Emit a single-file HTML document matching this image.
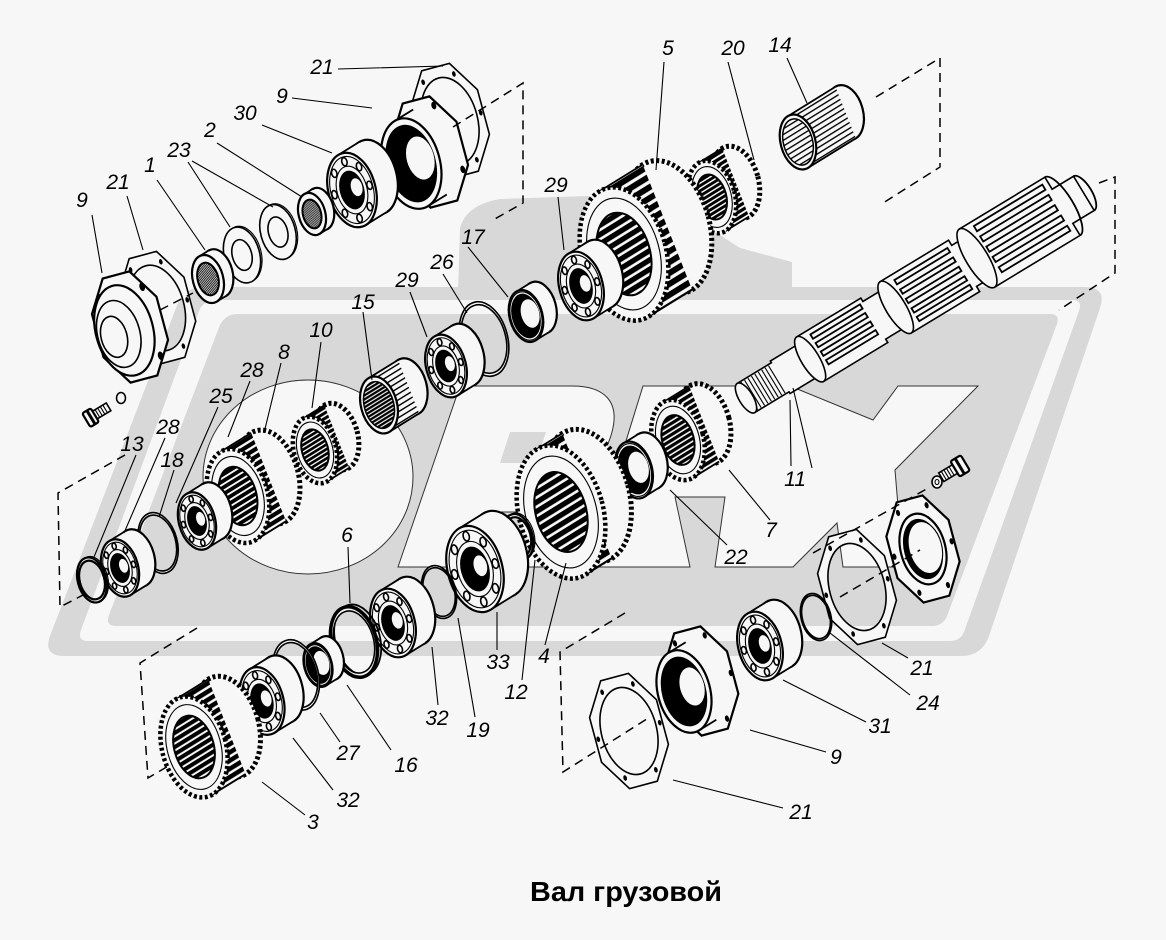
<!DOCTYPE html>
<html><head><meta charset="utf-8"><title>Вал грузовой</title>
<style>
html,body{margin:0;padding:0;background:#f7f7f7}
svg{display:block}
svg circle,svg path,svg rect,svg ellipse{vector-effect:non-scaling-stroke}
.w{fill:#f7f7f7;stroke:#000;stroke-width:1.6}
.w2{fill:#f7f7f7;stroke:#000;stroke-width:2.2}
.f{fill:#f7f7f7;stroke:none}
.s{fill:none;stroke:#000;stroke-width:1.8}
.n{fill:none;stroke:#000;stroke-width:1.1}
.b{fill:#000}
.wh{fill:#f7f7f7}
.tb{fill:#f7f7f7;stroke:#000;stroke-width:5;stroke-dasharray:3 2.5}
.tf{fill:#f7f7f7;stroke:#000;stroke-width:4.5;stroke-dasharray:3 2.5}
.d{fill:none;stroke:#000;stroke-width:1.5;stroke-dasharray:9 6}
.ld{fill:none;stroke:#000;stroke-width:1.1}
.gr{fill:#d8d8d8}
.lt{fill:#f7f7f7;stroke:#333;stroke-width:1}
text.l{font-family:"Liberation Sans",sans-serif;font-style:italic;font-size:21px;text-anchor:middle;fill:#000}
</style></head>
<body>
<svg width="1166" height="940" viewBox="0 0 1166 940" xmlns="http://www.w3.org/2000/svg">
<defs>
<pattern id="st" patternUnits="userSpaceOnUse" width="14" height="14" patternTransform="rotate(-10.5)"><rect width="14" height="14" fill="#f7f7f7"/><rect width="14" height="9" fill="#000"/></pattern>
<pattern id="bo" patternUnits="userSpaceOnUse" width="12" height="12" patternTransform="rotate(-10.5)"><rect width="12" height="12" fill="#f7f7f7"/><rect width="12" height="8" fill="#000"/></pattern>
<pattern id="thr" patternUnits="userSpaceOnUse" width="9" height="9" patternTransform="rotate(60)"><rect width="9" height="9" fill="#f7f7f7"/><rect width="9" height="5" fill="#000"/></pattern>
<pattern id="win" patternUnits="userSpaceOnUse" width="18" height="18" patternTransform="rotate(-10.5)"><rect width="18" height="18" fill="#f7f7f7"/><rect width="18" height="5" fill="#000"/></pattern>
<path id="oct" d="M97.9,40.6L40.6,97.9L-40.6,97.9L-97.9,40.6L-97.9,-40.6L-40.6,-97.9L40.6,-97.9L97.9,-40.6Z"/>
<g id="brg" transform="matrix(0.599,-0.161,0.259,0.966,0,0)">
<circle cx="100.4" cy="-18.7" r="100" class="w2"/>
<path d="M18.2,98.3L118.6,79.6L82.2,-117L-18.2,-98.3Z" class="f"/>
<path d="M18.2,98.3L118.6,79.6M-18.2,-98.3L82.2,-117" class="s"/>
<circle r="100" class="w2"/><circle r="90" class="n"/><circle r="64" class="n"/>
<path class="w" d="M88,0a11,11 0 1 0 -22,0a11,11 0 1 0 22,0ZM65.4,54.4a11,11 0 1 0 -22,0a11,11 0 1 0 22,0ZM11,77a11,11 0 1 0 -22,0a11,11 0 1 0 22,0ZM-43.4,54.4a11,11 0 1 0 -22,0a11,11 0 1 0 22,0ZM-66,0a11,11 0 1 0 -22,0a11,11 0 1 0 22,0ZM-43.4,-54.4a11,11 0 1 0 -22,0a11,11 0 1 0 22,0ZM11,-77a11,11 0 1 0 -22,0a11,11 0 1 0 22,0ZM65.4,-54.4a11,11 0 1 0 -22,0a11,11 0 1 0 22,0Z"/>
<circle r="52" class="b"/><circle cx="22" cy="-4" r="24" class="wh"/>
</g>
<g id="gA" transform="matrix(0.599,-0.161,0.259,0.966,0,0)">
<circle cx="115.9" cy="-21.5" r="100" class="tb"/>
<path d="M18.2,98.3L134.1,76.8L97.7,-119.8L-18.2,-98.3Z" fill="url(#st)"/>
<path d="M18.2,98.3L134.1,76.8M-18.2,-98.3L97.7,-119.8" class="s"/>
<circle r="100" class="tf"/><circle r="84" class="n"/>
<circle r="62" fill="url(#bo)" stroke="#000" stroke-width="2"/>
</g>
<g id="gB" transform="matrix(0.599,-0.161,0.259,0.966,0,0)">
<circle cx="69.5" cy="-12.9" r="100" class="tb"/>
<path d="M18.2,98.3L87.7,85.4L51.3,-111.2L-18.2,-98.3Z" fill="url(#st)"/>
<path d="M18.2,98.3L87.7,85.4M-18.2,-98.3L51.3,-111.2" class="s"/>
<circle r="100" class="tf"/><circle r="84" class="n"/>
<circle r="60" fill="url(#bo)" stroke="#000" stroke-width="2"/>
</g>
<g id="dr" transform="matrix(0.599,-0.161,0.259,0.966,0,0)">
<circle cx="92.7" cy="-17.2" r="100" class="w2"/>
<path d="M18.2,98.3L110.9,81.1L74.5,-115.5L-18.2,-98.3Z" class="f"/>
<path d="M18.2,98.3L110.9,81.1M-18.2,-98.3L74.5,-115.5" class="s"/>
<circle r="100" class="w2"/><circle r="93" class="n"/><circle r="86" class="b"/>
<circle cx="28" cy="-5" r="55" class="wh"/>
</g>
<g id="cg1" transform="matrix(0.599,-0.161,0.259,0.966,0,0)">
<circle cx="185.4" cy="-34.4" r="100" class="w2"/>
<path d="M18.2,98.3L203.6,63.9L167.2,-132.7L-18.2,-98.3Z" fill="url(#win)"/>
<path d="M18.2,98.3L203.6,63.9M-18.2,-98.3L167.2,-132.7" class="s"/>
<circle r="100" class="w2"/><circle r="82" fill="url(#bo)" stroke="#000" stroke-width="1.5"/>
</g>
<g id="cg2" transform="matrix(0.599,-0.161,0.259,0.966,0,0)">
<circle cx="309" cy="-57.4" r="100" class="w2"/>
<path d="M18.2,98.3L327.2,40.9L290.8,-155.7L-18.2,-98.3Z" fill="url(#win)"/>
<path d="M18.2,98.3L327.2,40.9M-18.2,-98.3L290.8,-155.7" class="s"/>
<circle r="100" class="w2"/><circle r="84" fill="url(#win)" stroke="#000" stroke-width="1.5"/>
</g>
<g id="nut" transform="matrix(0.599,-0.161,0.259,0.966,0,0)">
<circle cx="69.5" cy="-12.9" r="100" class="w2"/>
<path d="M18.2,98.3L87.7,85.4L51.3,-111.2L-18.2,-98.3Z" class="f"/>
<path d="M18.2,98.3L87.7,85.4M-18.2,-98.3L51.3,-111.2" class="s"/>
<circle r="100" class="w2"/><circle r="68" fill="url(#thr)" stroke="#000" stroke-width="2"/>
</g>
<g id="wsh" transform="matrix(0.599,-0.161,0.259,0.966,0,0)">
<circle cx="9.3" cy="-1.7" r="100" class="n"/>
<path d="M100,0A100,100 0 1 1 -100,0A100,100 0 1 1 100,0ZM55,0A55,55 0 1 1 -55,0A55,55 0 1 1 55,0Z" fill-rule="evenodd" class="w"/>
</g>
<g id="rg" transform="matrix(0.599,-0.161,0.259,0.966,0,0)">
<circle cx="12.4" cy="-2.3" r="100" class="n"/>
<path d="M100,0A100,100 0 1 1 -100,0A100,100 0 1 1 100,0ZM86,0A86,86 0 1 1 -86,0A86,86 0 1 1 86,0Z" fill-rule="evenodd" class="w2"/>
</g>
<g id="rgB" transform="matrix(0.599,-0.161,0.259,0.966,0,0)">
<circle cx="18.5" cy="-3.4" r="100" class="s"/>
<path d="M100,0A100,100 0 1 1 -100,0A100,100 0 1 1 100,0ZM88,0A88,88 0 1 1 -88,0A88,88 0 1 1 88,0Z" fill-rule="evenodd" class="w"/>
<circle r="100" fill="none" stroke="#000" stroke-width="3.5"/>
</g>
<g id="clip" transform="matrix(0.599,-0.161,0.259,0.966,0,0)">
<path d="M100,0A100,100 0 1 1 -100,0A100,100 0 1 1 100,0ZM92,0A92,92 0 1 1 -92,0A92,92 0 1 1 92,0Z" fill-rule="evenodd" class="w"/>
</g>
<g id="gsk" transform="matrix(0.599,-0.161,0.259,0.966,0,0)">
<path d="M97.9,40.6L40.6,97.9L-40.6,97.9L-97.9,40.6L-97.9,-40.6L-40.6,-97.9L40.6,-97.9L97.9,-40.6ZM78,0A78,78 0 1 1 -78,0A78,78 0 1 1 78,0Z" fill-rule="evenodd" class="w"/>
<path class="b" d="M95,0a5,5 0 1 0 -10,0a5,5 0 1 0 10,0ZM50,77.9a5,5 0 1 0 -10,0a5,5 0 1 0 10,0ZM-40,77.9a5,5 0 1 0 -10,0a5,5 0 1 0 10,0ZM-85,0a5,5 0 1 0 -10,0a5,5 0 1 0 10,0ZM-40,-77.9a5,5 0 1 0 -10,0a5,5 0 1 0 10,0ZM50,-77.9a5,5 0 1 0 -10,0a5,5 0 1 0 10,0Z"/>
</g>
</defs>

<rect width="1166" height="940" fill="#f7f7f7"/>
<path class="gr" d="M203,287L1085,287Q1107,287 1100,308L989,636Q982,656 961,656L64,656Q43,656 50,636L176,308Q183,287 203,287Z"/>
<path class="gr" d="M458,292L460,228Q466,205 500,199L588,196L700,222L740,248L792,262L792,292Z"/>
<path fill="#f7f7f7" d="M218,300L1072,300Q1083,300 1079,311L964,632Q960,641 950,641L88,641Q77,641 81,630L199,311Q203,300 218,300Z"/>
<path class="gr" d="M238,314L1050,314Q1060,314 1057,324L947,616Q943,626 932,626L116,626Q105,626 109,615L218,330Q223,314 238,314Z"/>
<ellipse class="lt" cx="308" cy="477" rx="105" ry="97"/>
<path class="lt" d="M398,567L460,386L572,386C605,386 620,402 612,432C606,455 592,468 570,476L600,567L520,567L533,512L490,512L472,567Z"/>
<path class="gr" d="M510,432L546,432L536,463L500,463Z"/>
<path class="lt" d="M587,567L643,386L790,386L873,420L898,386L978,386L895,470L903,567L843,567L837,523L793,567L715,567L725,497L675,497L690,567Z"/>

<g transform="translate(746,398) rotate(-31.2)">
<path class="w" stroke-width="2.2" d="M0,-17L40,-17L40,-19L75,-19L75,-26L150,-26L150,-22L175,-22L175,-30L255,-30L255,-24L270,-24L270,-34L370,-34L370,-20L395,-20L395,20L370,20L370,34L270,34L270,24L255,24L255,30L175,30L175,22L150,22L150,26L75,26L75,19L40,19L40,17L0,17Z"/>
<path class="n" stroke-width="1.3" d="M4,-16V16M8,-16V16M12,-16V16M16,-16V16M20,-16V16M24,-16V16M28,-16V16M32,-16V16M36,-16V16"/>
<ellipse cx="0" cy="0" rx="7" ry="17" class="w"/><ellipse cx="75" cy="0" rx="9" ry="26" class="w"/><ellipse cx="175" cy="0" rx="10" ry="30" class="w"/><ellipse cx="270" cy="0" rx="11" ry="34" class="w"/>
<path class="s" d="M395,-20A8,20 0 0 1 395,20M370,-34A11,34 0 0 1 370,34"/>
<path fill="none" stroke="#000" stroke-width="1.8" d="M88,-21h58v5h-58zM88,-11h58v5h-58zM88,-1h58v5h-58zM88,9h58v5h-58zM188,-24h62v5h-62zM188,-13h62v5h-62zM188,-2h62v5h-62zM188,9h62v5h-62zM188,19h62v5h-62zM284,-29h80v6h-80zM284,-17h80v6h-80zM284,-5h80v6h-80zM284,7h80v6h-80zM284,19h80v6h-80z"/>
</g>

<use href="#gsk" transform="translate(450,121) scale(0.57)"/>
<g transform="translate(430,152) scale(0.55)"><g transform="matrix(0.599,-0.161,0.259,0.966,0,0)">
<use href="#oct" class="w2"/>
<path class="b" d="M86.7,46a7,7 0 1 0 -14,0a7,7 0 1 0 14,0ZM-39,79.7a7,7 0 1 0 -14,0a7,7 0 1 0 14,0ZM-72.7,-46a7,7 0 1 0 -14,0a7,7 0 1 0 14,0ZM53,-79.7a7,7 0 1 0 -14,0a7,7 0 1 0 14,0Z"/>
<path d="M15.3,82.6L-46.5,94.1L-77.1,-71.1L-15.3,-82.6Z" class="f"/>
<path d="M15.3,82.6L-46.5,94.1M-15.3,-82.6L-77.1,-71.1" class="s"/>
<circle cx="-61.8" cy="11.5" r="84" class="w2"/><circle cx="-61.8" cy="11.5" r="72" class="b"/><circle cx="-32" cy="6" r="40" class="wh"/>
</g></g>
<use href="#brg" transform="translate(352,190) scale(0.38)"/>
<use href="#nut" transform="translate(312,214) scale(0.215)"/>
<use href="#wsh" transform="translate(278,232) scale(0.28)"/>
<use href="#wsh" transform="translate(242,255) scale(0.285)"/>
<use href="#nut" transform="translate(208,279) scale(0.245)"/>
<use href="#gsk" transform="translate(157,308) scale(0.56)"/>
<g transform="translate(130,327) scale(0.55)"><g transform="matrix(0.599,-0.161,0.259,0.966,0,0)">
<use href="#oct" class="w2"/>
<path class="b" d="M73,65a8,8 0 1 0 -16,0a8,8 0 1 0 16,0ZM-57,65a8,8 0 1 0 -16,0a8,8 0 1 0 16,0ZM-57,-65a8,8 0 1 0 -16,0a8,8 0 1 0 16,0ZM73,-65a8,8 0 1 0 -16,0a8,8 0 1 0 16,0Z"/>
<circle cx="-18.5" cy="3.4" r="84" class="w2"/><circle cx="-37.1" cy="6.9" r="62" class="w"/><circle cx="-52.5" cy="9.8" r="38" class="w"/>
</g></g>
<g transform="translate(100,412) rotate(-31)">
<rect x="-6" y="-4.5" width="16" height="9" class="w"/>
<path class="n" d="M-3,-4.5V4.5M0,-4.5V4.5M3,-4.5V4.5M6,-4.5V4.5"/>
<rect x="-16" y="-8" width="10" height="16" rx="2" class="w2"/><rect x="-12" y="-8" width="3" height="16" class="b"/>
</g>
<ellipse cx="121" cy="398" rx="4.5" ry="5.5" class="w"/>

<use href="#cg2" transform="translate(798,142) scale(0.28)"/>
<use href="#gA" transform="translate(712,197) scale(0.37)"/>
<use href="#gA" transform="translate(624,254) scale(0.68)"/>
<use href="#brg" transform="translate(581,286) scale(0.35)"/>
<use href="#dr" transform="translate(526,316) scale(0.265)"/>
<use href="#clip" transform="translate(484,339) scale(0.38)"/>
<use href="#brg" transform="translate(446,366) scale(0.32)"/>
<use href="#cg1" transform="translate(379,405) scale(0.29)"/>
<use href="#gA" transform="translate(315,450) scale(0.34)"/>
<use href="#gA" transform="translate(238,496) scale(0.48)"/>
<use href="#brg" transform="translate(197,521) scale(0.293)"/>
<use href="#clip" transform="translate(158,543) scale(0.31)"/>
<use href="#brg" transform="translate(120,568) scale(0.293)"/>
<use href="#rg" transform="translate(92,580) scale(0.23)"/>

<use href="#gA" transform="translate(678,440) scale(0.41)"/>
<use href="#dr" transform="translate(634,470) scale(0.29)"/>
<use href="#gB" transform="translate(561,512) scale(0.68)"/>
<use href="#rg" transform="translate(518,537) scale(0.235)"/>
<use href="#brg" transform="translate(475,569) scale(0.44)"/>
<use href="#clip" transform="translate(439,592) scale(0.27)"/>
<use href="#brg" transform="translate(393,623) scale(0.35)"/>
<use href="#rgB" transform="translate(354,642) scale(0.36)"/>
<use href="#dr" transform="translate(318,665) scale(0.223)"/>
<use href="#clip" transform="translate(296,675) scale(0.36)"/>
<use href="#brg" transform="translate(262,701) scale(0.345)"/>
<use href="#gA" transform="translate(194,747) scale(0.515)"/>

<g transform="translate(955,469) rotate(-31)">
<rect x="-16" y="-5" width="16" height="10" class="w"/>
<path class="n" d="M-13,-5V5M-10,-5V5M-7,-5V5M-4,-5V5"/>
<rect x="0" y="-9" width="12" height="18" rx="2" class="w2"/><rect x="4" y="-9" width="3" height="18" class="b"/>
</g>
<ellipse cx="937" cy="482" rx="5" ry="6" class="w"/><ellipse cx="937" cy="482" rx="2" ry="2.5" class="n"/>
<g transform="translate(923,549) scale(0.53)"><g transform="matrix(0.599,-0.161,0.259,0.966,0,0)">
<use href="#oct" class="w2"/>
<path class="b" d="M96,0a6,6 0 1 0 -12,0a6,6 0 1 0 12,0ZM51,77.9a6,6 0 1 0 -12,0a6,6 0 1 0 12,0ZM-39,77.9a6,6 0 1 0 -12,0a6,6 0 1 0 12,0ZM-84,0a6,6 0 1 0 -12,0a6,6 0 1 0 12,0ZM-39,-77.9a6,6 0 1 0 -12,0a6,6 0 1 0 12,0ZM51,-77.9a6,6 0 1 0 -12,0a6,6 0 1 0 12,0Z"/>
<circle r="68" class="w2"/><circle r="58" class="b"/><circle cx="8" cy="-1.5" r="50" class="wh"/><circle cx="8" cy="-1.5" r="50" class="n"/>
</g></g>
<use href="#gsk" transform="translate(857,587) scale(0.57)"/>
<use href="#clip" transform="translate(816,617) scale(0.24)"/>
<use href="#brg" transform="translate(760,646) scale(0.35)"/>
<g transform="translate(701,681) scale(0.54)"><g transform="matrix(0.599,-0.161,0.259,0.966,0,0)">
<use href="#oct" class="w2"/>
<path class="b" d="M98,0a6,6 0 1 0 -12,0a6,6 0 1 0 12,0ZM52,79.7a6,6 0 1 0 -12,0a6,6 0 1 0 12,0ZM-40,79.7a6,6 0 1 0 -12,0a6,6 0 1 0 12,0ZM-86,0a6,6 0 1 0 -12,0a6,6 0 1 0 12,0ZM-40,-79.7a6,6 0 1 0 -12,0a6,6 0 1 0 12,0ZM52,-79.7a6,6 0 1 0 -12,0a6,6 0 1 0 12,0Z"/>
<path d="M14.2,76.7L-43,87.3L-71.4,-66.1L-14.2,-76.7Z" class="f"/>
<path d="M14.2,76.7L-43,87.3M-14.2,-76.7L-71.4,-66.1" class="s"/>
<circle cx="-57.2" cy="10.6" r="78" class="w2"/><circle cx="-57.2" cy="10.6" r="66" class="b"/><circle cx="-30" cy="5.5" r="36" class="wh"/>
</g></g>
<use href="#gsk" transform="translate(629,731) scale(0.57)"/>

<path class="d" d="M453,127L523,83L523,203L493,220M876,97L940,58L940,167L883,203M1099,183L1115,177L1115,273L1059,310M125,455L58,493L60,607L85,594M197,628L140,663L148,778L170,765M625,613L560,652L563,772L650,717M813,553L930,487M840,597L920,550M160,310L193,293"/>

<path class="ld" d="M338,69L443,66M292,98L372,108M262,125L332,153M217,143L302,197M188,162L230,227M192,161L273,207M157,180L205,250M127,196L143,250M92,215L102,273M664,62L656,170M728,62L754,160M787,58L807,103M558,197L564,250M468,247L508,297M443,274L467,313M410,292L427,337M363,312L372,380M321,342L312,408M281,363L264,433M250,381L228,437M218,407L176,503M165,438L124,533M174,470L159,517M136,455L94,557M348,547L350,603M791,466L790,400M812,468L793,388M770,520L729,470M727,545L670,490M497,650L497,612M545,645L566,563M522,680L535,560M438,705L432,647M475,717L458,618M340,742L320,713M391,750L347,685M333,790L293,738M305,815L262,782M908,658L882,643M910,695L830,633M866,722L783,680M826,752L750,730M783,808L673,780"/>

<g>
<text class="l" x="322" y="74">21</text><text class="l" x="282" y="103">9</text><text class="l" x="245" y="120">30</text><text class="l" x="210" y="137">2</text><text class="l" x="179" y="157">23</text><text class="l" x="150" y="172">1</text><text class="l" x="118" y="189">21</text><text class="l" x="82" y="207">9</text>
<text class="l" x="668" y="55">5</text><text class="l" x="733" y="55">20</text><text class="l" x="780" y="52">14</text><text class="l" x="556" y="192">29</text><text class="l" x="473" y="244">17</text><text class="l" x="442" y="269">26</text><text class="l" x="407" y="287">29</text><text class="l" x="363" y="309">15</text>
<text class="l" x="321" y="337">10</text><text class="l" x="284" y="359">8</text><text class="l" x="252" y="377">28</text><text class="l" x="221" y="403">25</text><text class="l" x="168" y="434">28</text><text class="l" x="172" y="467">18</text><text class="l" x="132" y="451">13</text><text class="l" x="347" y="542">6</text>
<text class="l" x="795" y="486">11</text><text class="l" x="771" y="537">7</text><text class="l" x="736" y="564">22</text><text class="l" x="498" y="669">33</text><text class="l" x="544" y="663">4</text><text class="l" x="516" y="699">12</text><text class="l" x="437" y="725">32</text><text class="l" x="478" y="737">19</text>
<text class="l" x="348" y="760">27</text><text class="l" x="406" y="772">16</text><text class="l" x="348" y="807">32</text><text class="l" x="313" y="829">3</text><text class="l" x="922" y="675">21</text><text class="l" x="928" y="710">24</text><text class="l" x="880" y="733">31</text><text class="l" x="836" y="764">9</text><text class="l" x="801" y="819">21</text>
</g>

<text x="626" y="901" font-family="Liberation Sans, sans-serif" font-weight="bold" font-size="28" text-anchor="middle" textLength="192" lengthAdjust="spacingAndGlyphs" fill="#000">Вал грузовой</text>
</svg>
</body></html>
